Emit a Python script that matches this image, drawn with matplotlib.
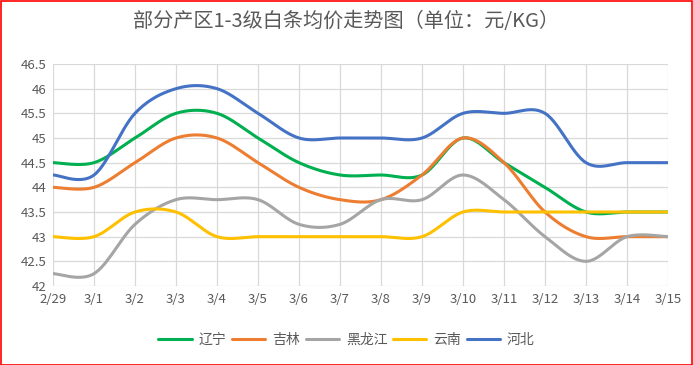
import numpy as np
import matplotlib
matplotlib.use("Agg")
import matplotlib.pyplot as plt
from matplotlib.patches import Rectangle

plt.rcParams['font.family'] = ['Noto Sans CJK SC', 'DejaVu Sans']

dates = ["2/29", "3/1", "3/2", "3/3", "3/4", "3/5", "3/6", "3/7", "3/8",
         "3/9", "3/10", "3/11", "3/12", "3/13", "3/14", "3/15"]
liaoning = [44.5, 44.5, 45, 45.5, 45.5, 45, 44.5, 44.25, 44.25, 44.25, 45, 44.5, 44, 43.5, 43.5, 43.5]
jilin = [44, 44, 44.5, 45, 45, 44.5, 44, 43.75, 43.75, 44.25, 45, 44.5, 43.5, 43, 43, 43]
heilongjiang = [42.25, 42.25, 43.25, 43.75, 43.75, 43.75, 43.25, 43.25, 43.75, 43.75, 44.25, 43.75, 43, 42.5, 43, 43]
yunnan = [43, 43, 43.5, 43.5, 43, 43, 43, 43, 43, 43, 43.5, 43.5, 43.5, 43.5, 43.5, 43.5]
hebei = [44.25, 44.25, 45.5, 46, 46, 45.5, 45, 45, 45, 45, 45.5, 45.5, 45.5, 44.5, 44.5, 44.5]

series = [("辽宁", liaoning, "#00B050"), ("吉林", jilin, "#ED7D31"),
          ("黑龙江", heilongjiang, "#A5A5A5"), ("云南", yunnan, "#FFC000"),
          ("河北", hebei, "#4472C4")]


def smooth(x, y, n=30):
    x = np.asarray(x, float); y = np.asarray(y, float)
    px = np.concatenate([[x[0]], x, [x[-1]]])
    py = np.concatenate([[y[0]], y, [y[-1]]])
    xs, ys = [], []
    t = np.linspace(0, 1, n)
    for i in range(1, len(px) - 2):
        p0 = np.array([px[i], py[i]]); p3 = np.array([px[i + 1], py[i + 1]])
        c1 = p0 + (np.array([px[i + 1], py[i + 1]]) - np.array([px[i - 1], py[i - 1]])) / 6
        c2 = p3 - (np.array([px[i + 2], py[i + 2]]) - np.array([px[i], py[i]])) / 6
        b = ((1 - t) ** 3)[:, None] * p0 + (3 * (1 - t) ** 2 * t)[:, None] * c1 + \
            (3 * (1 - t) * t ** 2)[:, None] * c2 + (t ** 3)[:, None] * p3
        xs.append(b[:, 0]); ys.append(b[:, 1])
    return np.concatenate(xs), np.concatenate(ys)


fig = plt.figure(figsize=(6.93, 3.65), dpi=100)
ax = fig.add_axes([53 / 693, 1 - 286 / 365, (668 - 53) / 693, (286 - 64) / 365])

x = np.arange(len(dates))
for name, vals, col in series:
    sx, sy = smooth(x, vals)
    ax.plot(sx, sy, color=col, lw=2.2, label=name, solid_capstyle='round')

ax.set_xlim(0, len(dates) - 1)
ax.set_ylim(42, 46.5)
ax.set_yticks(np.arange(42, 46.51, 0.5))
ax.set_yticklabels([f"{v:g}" for v in np.arange(42, 46.51, 0.5)])
ax.set_xticks(x)
ax.set_xticklabels(dates)
ax.grid(True, color="#D9D9D9", lw=0.9)
ax.set_axisbelow(True)
for s in ax.spines.values():
    s.set_visible(False)
ax.tick_params(length=0, labelsize=9.5, colors="#595959", pad=5)

fig.text(0.5, 1 - 22 / 365, "部分产区1-3级白条均价走势图（单位：元/KG）", ha="center", va="center",
         fontsize=14.5, color="#595959")

fig.legend(loc="center", bbox_to_anchor=(0.5, 1 - 340 / 365), ncol=5, frameon=False,
           fontsize=10, labelcolor="#595959", handlelength=2.4, columnspacing=0.4, handletextpad=0.5)

fig.patches.append(Rectangle((0.5 / 693, 0.5 / 365), 1 - 1.5 / 693, 1 - 1.5 / 365,
                             transform=fig.transFigure, fill=False, edgecolor="red", lw=1.2))

fig.savefig("out.png", dpi=100)
